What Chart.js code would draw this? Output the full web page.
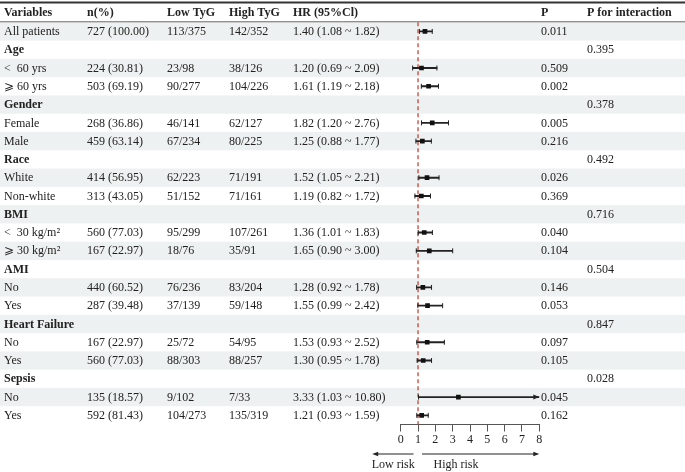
<!DOCTYPE html>
<html>
<head>
<meta charset="utf-8">
<script src="https://cdn.jsdelivr.net/npm/chart.js@4.4.1/dist/chart.umd.min.js"></script>
<style>
  html, body { margin: 0; padding: 0; background: #fff; }
  #wrap { width: 685px; height: 472px; position: relative; }
</style>
</head>
<body>
<div id="wrap"><canvas id="forest"></canvas></div>
<script>
// ── Data ─────────────────────────────────────────────
const rowLabels = ['All patients', 'Age', '<  60 yrs', '⩾ 60 yrs', 'Gender', 'Female', 'Male',
  'Race', 'White', 'Non-white', 'BMI', '<  30 kg/m²', '⩾ 30 kg/m²', 'AMI', 'No', 'Yes',
  'Heart Failure', 'No', 'Yes', 'Sepsis', 'No', 'Yes'];
const isGroup = [false, true, false, false, true, false, false, true, false, false, true,
  false, false, true, false, false, true, false, false, true, false, false];
const nPct = ['727 (100.00)', '', '224 (30.81)', '503 (69.19)', '', '268 (36.86)', '459 (63.14)',
  '', '414 (56.95)', '313 (43.05)', '', '560 (77.03)', '167 (22.97)', '', '440 (60.52)', '287 (39.48)',
  '', '167 (22.97)', '560 (77.03)', '', '135 (18.57)', '592 (81.43)'];
const lowTyG = ['113/375', '', '23/98', '90/277', '', '46/141', '67/234', '', '62/223', '51/152',
  '', '95/299', '18/76', '', '76/236', '37/139', '', '25/72', '88/303', '', '9/102', '104/273'];
const highTyG = ['142/352', '', '38/126', '104/226', '', '62/127', '80/225', '', '71/191', '71/161',
  '', '107/261', '35/91', '', '83/204', '59/148', '', '54/95', '88/257', '', '7/33', '135/319'];
const hr = [1.40, null, 1.20, 1.61, null, 1.82, 1.25, null, 1.52, 1.19, null, 1.36, 1.65, null,
  1.28, 1.55, null, 1.53, 1.30, null, 3.33, 1.21];
const lower = [1.08, null, 0.69, 1.19, null, 1.20, 0.88, null, 1.05, 0.82, null, 1.01, 0.90, null,
  0.92, 0.99, null, 0.93, 0.95, null, 1.03, 0.93];
const upper = [1.82, null, 2.09, 2.18, null, 2.76, 1.77, null, 2.21, 1.72, null, 1.83, 3.00, null,
  1.78, 2.42, null, 2.52, 1.78, null, 10.80, 1.59];
const pValue = ['0.011', '', '0.509', '0.002', '', '0.005', '0.216', '', '0.026', '0.369', '',
  '0.040', '0.104', '', '0.146', '0.053', '', '0.097', '0.105', '', '0.045', '0.162'];
const pInteraction = ['', '0.395', '', '', '0.378', '', '', '0.492', '', '', '0.716', '', '',
  '0.504', '', '', '0.847', '', '', '0.028', '', ''];
const headers = ['Variables', 'n(%)', 'Low TyG', 'High TyG', 'HR (95%Cl)', 'P', 'P for interaction'];
const xTicks = [0, 1, 2, 3, 4, 5, 6, 7, 8];
const X_MIN = 0, X_MAX = 8, REF = 1;

const FONT = '"Liberation Serif", "Times New Roman", serif';
const TXT = '#222';
const colX = [4, 87, 167, 229, 293, 541, 587];

const hrText = hr.map((v, i) => v == null ? '' :
  `${v.toFixed(2)} (${lower[i].toFixed(2)} ~ ${upper[i].toFixed(2)})`);
const ciBars = hr.map((v, i) => v == null ? null : [lower[i], Math.min(upper[i], X_MAX)]);

// ── Table + decorations plugin ───────────────────────
const forestTable = {
  id: 'forestTable',
  beforeDatasetsDraw(chart) {
    const { ctx, chartArea, scales: { x, y } } = chart;
    const W = chart.width;
    const band = (y.getPixelForValue(1) - y.getPixelForValue(0));
    ctx.save();
    // row shading
    ctx.fillStyle = '#eef1f1';
    rowLabels.forEach((_, i) => {
      if (i % 2 !== 0) return;
      const c = y.getPixelForValue(i);
      ctx.fillRect(0, c - band / 2, W, band);
    });
    // top rule + header rule
    ctx.strokeStyle = '#333';
    ctx.lineWidth = 2;
    ctx.beginPath(); ctx.moveTo(0, 2.5); ctx.lineTo(W, 2.5); ctx.stroke();
    ctx.strokeStyle = '#666';
    ctx.lineWidth = 1;
    ctx.beginPath(); ctx.moveTo(0, chartArea.top - 0.5); ctx.lineTo(W, chartArea.top - 0.5); ctx.stroke();
    // reference line at HR = 1
    const rx = x.getPixelForValue(REF);
    ctx.strokeStyle = '#c0392b';
    ctx.lineWidth = 1.2;
    ctx.setLineDash([4, 3]);
    ctx.beginPath(); ctx.moveTo(rx, chartArea.top); ctx.lineTo(rx, chartArea.bottom); ctx.stroke();
    ctx.restore();
  },
  afterDatasetsDraw(chart) {
    const { ctx, chartArea, scales: { x, y } } = chart;
    ctx.save();
    // CI caps / arrow
    ctx.strokeStyle = '#222';
    ctx.fillStyle = '#222';
    ctx.lineWidth = 1;
    hr.forEach((v, i) => {
      if (v == null) return;
      const c = y.getPixelForValue(i);
      const lx = x.getPixelForValue(lower[i]);
      ctx.beginPath(); ctx.moveTo(lx, c - 2.5); ctx.lineTo(lx, c + 2.5); ctx.stroke();
      if (upper[i] > X_MAX) {
        const ax = x.getPixelForValue(X_MAX);
        ctx.beginPath(); ctx.moveTo(ax, c); ctx.lineTo(ax - 6, c - 2.5); ctx.lineTo(ax - 6, c + 2.5);
        ctx.closePath(); ctx.fill();
      } else {
        const ux = x.getPixelForValue(upper[i]);
        ctx.beginPath(); ctx.moveTo(ux, c - 2.5); ctx.lineTo(ux, c + 2.5); ctx.stroke();
      }
    });

    // table text
    ctx.fillStyle = TXT;
    ctx.textBaseline = 'middle';
    ctx.textAlign = 'left';
    ctx.font = `bold 12px ${FONT}`;
    headers.forEach((h, k) => ctx.fillText(h, colX[k], chartArea.top / 2 + 2));
    rowLabels.forEach((lab, i) => {
      const c = y.getPixelForValue(i) + 0.5;
      ctx.font = `${isGroup[i] ? 'bold ' : ''}12px ${FONT}`;
      ctx.fillText(lab, colX[0], c);
      ctx.font = `12px ${FONT}`;
      ctx.fillText(nPct[i], colX[1], c);
      ctx.fillText(lowTyG[i], colX[2], c);
      ctx.fillText(highTyG[i], colX[3], c);
      ctx.fillText(hrText[i], colX[4], c);
      ctx.fillText(pValue[i], colX[5], c);
      ctx.fillText(pInteraction[i], colX[6], c);
    });

    // low / high risk arrows
    const ay = 454;
    const x0 = x.getPixelForValue(0), x1 = x.getPixelForValue(REF), x8 = x.getPixelForValue(X_MAX);
    const arrow = (from, to) => {
      const dir = Math.sign(to - from);
      ctx.beginPath(); ctx.moveTo(from, ay); ctx.lineTo(to - dir * 5, ay); ctx.stroke();
      ctx.beginPath(); ctx.moveTo(to, ay); ctx.lineTo(to - dir * 6, ay - 2.3); ctx.lineTo(to - dir * 6, ay + 2.3);
      ctx.closePath(); ctx.fill();
    };
    ctx.strokeStyle = '#222';
    ctx.fillStyle = '#222';
    arrow(x1 - 4.5, x0 - 28.5);
    arrow(x1 + 4, x8);
    ctx.font = `12px ${FONT}`;
    ctx.fillStyle = TXT;
    ctx.fillText('Low risk', x0 - 29, 465);
    ctx.fillText('High risk', x1 + 15.5, 465);
    ctx.restore();
  }
};

// ── Chart ────────────────────────────────────────────
new Chart(document.getElementById('forest'), {
  type: 'bar',
  data: {
    labels: rowLabels,
    datasets: [
      {
        label: '95% CI',
        data: ciBars,
        backgroundColor: '#222',
        borderWidth: 0,
        barThickness: 1.2,
        order: 2
      },
      {
        type: 'line',
        label: 'HR',
        data: hr,
        showLine: false,
        pointStyle: 'rect',
        pointRadius: 3.3,
        pointBackgroundColor: '#111',
        pointBorderColor: '#111',
        pointBorderWidth: 0,
        order: 1
      }
    ]
  },
  options: {
    indexAxis: 'y',
    responsive: true,
    maintainAspectRatio: false,
    animation: false,
    events: [],
    layout: { padding: { left: 400.7, right: 145.7, top: 22.3, bottom: 0 } },
    plugins: { legend: { display: false }, tooltip: { enabled: false } },
    scales: {
      y: { display: false, offset: true },
      x: {
        type: 'linear',
        min: X_MIN,
        max: X_MAX,
        afterBuildTicks: (s) => { s.ticks = xTicks.map(v => ({ value: v })); },
        afterFit: (s) => { s.height = 47.5; },
        ticks: { color: TXT, font: { family: FONT, size: 12 }, padding: 1 },
        grid: { drawOnChartArea: false, drawTicks: true, tickLength: 7, color: '#555' },
        border: { display: true, color: '#555', width: 1 }
      }
    }
  },
  plugins: [forestTable]
});
</script>
</body>
</html>
